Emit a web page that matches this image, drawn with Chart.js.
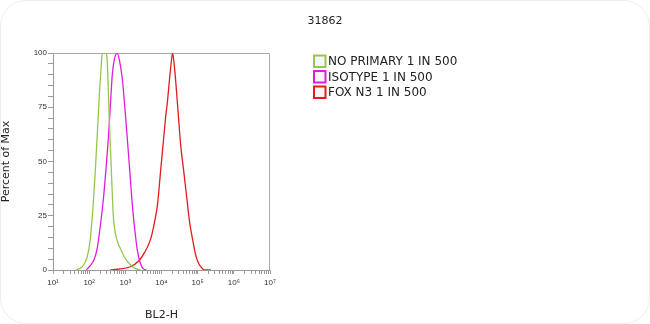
<!DOCTYPE html>
<html>
<head>
<meta charset="utf-8">
<title>31862</title>
<script src="https://cdn.jsdelivr.net/npm/chart.js@4.4.1/dist/chart.umd.min.js"></script>
<style>
    html, body { margin: 0; padding: 0; background: #fff; }
    #wrap { position: relative; width: 650px; height: 324px; }
    #frame { position: absolute; left: 0; top: 0; width: 650px; height: 324px; box-sizing: border-box;
             border: 1px solid #ededed; border-radius: 26px; pointer-events: none; }
    canvas { position: absolute; left: 0; top: 0; }
</style>
</head>
<body>
<div id="wrap">
    <canvas id="histo" width="650" height="324"></canvas>
    <div id="frame"></div>
</div>
<script>
// chart data
var chartTitle = '31862';
var xTitle = 'BL2-H';
var yTitle = 'Percent of Max';
var decades = [1e1, 1e2, 1e3, 1e4, 1e5, 1e6, 1e7];
var yLabels = [0, 25, 50, 75, 100];
var seriesNames = ['NO PRIMARY 1 IN 500', 'ISOTYPE 1 IN 500', 'FOX N3 1 IN 500'];
var seriesColors = ['#93c84e', '#dc1fdc', '#e21b1b'];

var noPrimaryX = [44, 64, 88, 107, 129, 147, 167, 190, 215, 230, 261, 297, 316, 359, 383, 436, 464, 528, 640, 774, 938, 1140, 1470, 2020, 2610];
var noPrimaryY = [0, 1.5, 6, 14, 30, 45, 62, 80, 94, 100, 100, 100, 96, 70, 58, 35, 25, 17, 12, 9, 6, 4, 2, 0.5, 0];

var isotypeX = [83, 107, 138, 167, 202, 245, 297, 337, 383, 436, 495, 600, 681, 826, 1000, 1140, 1380, 1560, 1900, 2150, 2610, 3160, 3830];
var isotypeY = [0, 2, 5, 10, 20, 32, 48, 60, 75, 90, 97, 100, 97, 88, 72, 60, 42, 30, 16, 9, 3, 0.5, 0];

var foxX = [383, 726, 1380, 2300, 3380, 4950, 6400, 7740, 9380, 11370, 12920, 14680, 16680, 18960, 20210, 22970, 26100, 29650, 33700, 40840, 49460, 59950, 72620, 88000, 106600, 129200, 156400, 229700];
var foxY = [0, 0.5, 1.5, 4, 8, 14, 22, 30, 45, 60, 70, 78, 88, 97, 100, 93, 82, 70, 58, 46, 34, 22, 14, 7, 3, 1, 0, 0];

var sup = {1: '\u00b9', 2: '\u00b2', 3: '\u00b3', 4: '\u2074', 5: '\u2075', 6: '\u2076', 7: '\u2077'};

function pairs(xs, ys) {
    var out = [];
    for (var i = 0; i < xs.length; i++) {
        out.push({x: xs[i], y: ys[i]});
    }
    return out;
}

var seriesData = [pairs(noPrimaryX, noPrimaryY), pairs(isotypeX, isotypeY), pairs(foxX, foxY)];
var datasets = [];
for (var i = 0; i < seriesNames.length; i++) {
    datasets.push({
        label: seriesNames[i],
        data: seriesData[i],
        borderColor: seriesColors[i],
        backgroundColor: seriesColors[i],
        borderWidth: 1.3,
        pointRadius: 0,
        fill: false,
        cubicInterpolationMode: 'monotone'
    });
}

// box round the plot + title + legend, drawn on the canvas
var decorations = {
    id: 'decorations',
    beforeDatasetsDraw: function (chart) {
        var a = chart.chartArea, ctx = chart.ctx;
        ctx.save();
        ctx.strokeStyle = '#a9a9a9';
        ctx.lineWidth = 1;
        ctx.beginPath();
        ctx.moveTo(a.left, a.top + 0.5);
        ctx.lineTo(a.right - 0.5, a.top + 0.5);
        ctx.lineTo(a.right - 0.5, a.bottom);
        ctx.stroke();
        ctx.restore();
    },
    afterDraw: function (chart) {
        var ctx = chart.ctx;
        ctx.save();
        ctx.fillStyle = '#222';
        ctx.font = '11px "DejaVu Sans"';
        ctx.textAlign = 'center';
        ctx.textBaseline = 'middle';
        ctx.fillText(chartTitle, 325, 21);

        ctx.textAlign = 'left';
        ctx.font = '12px "DejaVu Sans"';
        chart.data.datasets.forEach(function (ds, k) {
            var y = 61 + k * 15.5;
            ctx.fillStyle = '#f6f6f6';
            ctx.fillRect(314, y - 5.5, 11.5, 11.5);
            ctx.strokeStyle = ds.borderColor;
            ctx.lineWidth = 2;
            ctx.strokeRect(314, y - 5.5, 11.5, 11.5);
            ctx.fillStyle = '#222';
            ctx.fillText(ds.label, 328, y + 1);
        });
        ctx.restore();
    }
};

var ctx = document.getElementById('histo').getContext('2d');
var histo = new Chart(ctx, {
    type: 'line',
    data: { datasets: datasets },
    options: {
        responsive: false,
        animation: false,
        devicePixelRatio: 1,
        layout: { padding: { left: 0, top: 53, right: 380, bottom: 2 } },
        plugins: {
            legend: { display: false },
            title: { display: false },
            tooltip: { enabled: false }
        },
        scales: {
            x: {
                type: 'logarithmic',
                min: decades[0],
                max: decades[decades.length - 1],
                afterBuildTicks: function (scale) {
                    var t = [];
                    for (var d = 0; d < decades.length - 1; d++) {
                        for (var k = 1; k < 10; k++) {
                            t.push({value: k * decades[d]});
                        }
                    }
                    t.push({value: decades[decades.length - 1]});
                    scale.ticks = t;
                },
                afterFit: function (scale) { scale.height = 52; },
                ticks: {
                    autoSkip: false,
                    maxRotation: 0,
                    padding: 4,
                    color: '#333',
                    font: { family: 'Liberation Sans', size: 8 },
                    callback: function (value) {
                        var p = decades.indexOf(value);
                        if (p < 0) return '';
                        return '10' + sup[Math.round(Math.log10(value))];
                    }
                },
                grid: { drawOnChartArea: false, tickLength: 4, color: '#9a9a9a' },
                border: { color: '#9a9a9a' },
                title: {
                    display: true,
                    text: xTitle,
                    color: '#222',
                    font: { family: 'DejaVu Sans', size: 11 },
                    padding: { top: 0, bottom: 0 }
                }
            },
            y: {
                type: 'linear',
                min: 0,
                max: 100,
                afterFit: function (scale) { scale.width = 53; },
                ticks: {
                    stepSize: 5,
                    autoSkip: false,
                    padding: 1,
                    color: '#333',
                    font: { family: 'Liberation Sans', size: 8 },
                    callback: function (value) {
                        return yLabels.indexOf(value) >= 0 ? value : '';
                    }
                },
                grid: { drawOnChartArea: false, tickLength: 5, color: '#9a9a9a' },
                border: { color: '#9a9a9a' },
                title: {
                    display: true,
                    text: yTitle,
                    color: '#222',
                    font: { family: 'DejaVu Sans', size: 11 },
                    padding: { top: 0, bottom: 0 }
                }
            }
        }
    },
    plugins: [decorations]
});
</script>
</body>
</html>
